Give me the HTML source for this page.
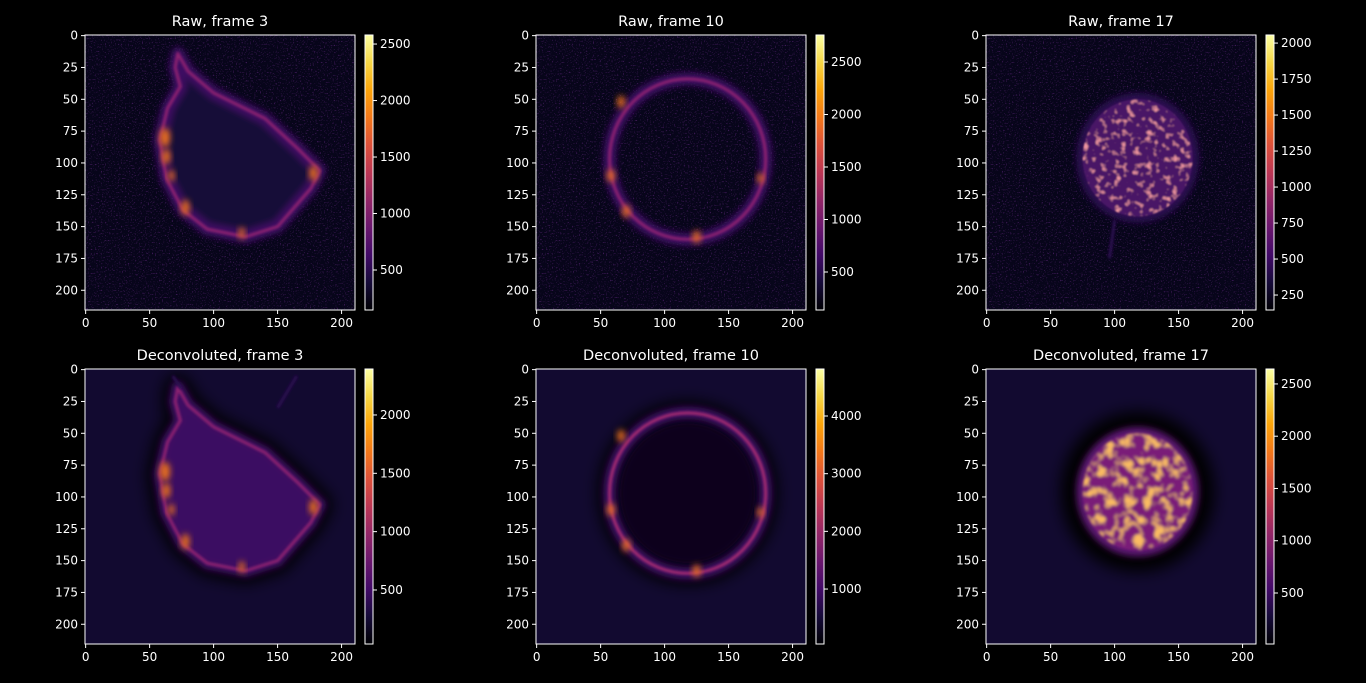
<!DOCTYPE html>
<html><head><meta charset="utf-8">
<style>
html,body{margin:0;padding:0;background:#000;}
svg{display:block;font-family:"DejaVu Sans","Liberation Sans",sans-serif;}
</style></head>
<body>
<svg id="fig" width="1366" height="683" viewBox="0 0 1366 683" xmlns="http://www.w3.org/2000/svg">
<defs>
  <linearGradient id="inferno" x1="0" y1="1" x2="0" y2="0">
    <stop offset="0" stop-color="#000004"/><stop offset="0.1" stop-color="#160b39"/>
    <stop offset="0.2" stop-color="#420a68"/><stop offset="0.3" stop-color="#6a176e"/>
    <stop offset="0.4" stop-color="#932667"/><stop offset="0.5" stop-color="#bc3754"/>
    <stop offset="0.6" stop-color="#dd513a"/><stop offset="0.7" stop-color="#f37819"/>
    <stop offset="0.8" stop-color="#fca50a"/><stop offset="0.9" stop-color="#f6d746"/>
    <stop offset="1" stop-color="#fcffa4"/>
  </linearGradient>
  <filter id="b1" x="-50%" y="-50%" width="200%" height="200%"><feGaussianBlur stdDeviation="1"/></filter>
  <filter id="b2" x="-50%" y="-50%" width="200%" height="200%"><feGaussianBlur stdDeviation="2.5"/></filter>
  <filter id="b6" x="-50%" y="-50%" width="200%" height="200%"><feGaussianBlur stdDeviation="6"/></filter>
  <filter id="speck" x="0" y="0" width="100%" height="100%">
    <feTurbulence type="fractalNoise" baseFrequency="0.9" numOctaves="1" seed="5" result="n"/>
    <feColorMatrix in="n" type="matrix" values="0 0 0 0 0.26  0 0 0 0 0.04  0 0 0 0 0.42  5 0 0 0 -2.9"/>
  </filter>
  <filter id="mottleRaw" x="-10%" y="-10%" width="120%" height="120%">
    <feTurbulence type="fractalNoise" baseFrequency="0.2" numOctaves="2" seed="3" result="n"/>
    <feColorMatrix in="n" type="matrix" values="0 0 0 0 0.85  0 0 0 0 0.3  0 0 0 0 0.35  4 0 0 0 -2.2" result="c"/>
    <feComposite in="c" in2="SourceGraphic" operator="in" result="m"/>
    <feMerge><feMergeNode in="SourceGraphic"/><feMergeNode in="m"/></feMerge>
    <feGaussianBlur stdDeviation="0.7"/>
  </filter>
  <filter id="mottle" x="-10%" y="-10%" width="120%" height="120%">
    <feTurbulence type="fractalNoise" baseFrequency="0.13" numOctaves="2" seed="3" result="n"/>
    <feColorMatrix in="n" type="matrix" values="0 0 0 0 0.96  0 0 0 0 0.5  0 0 0 0 0.12  4 0 0 0 -1.9" result="c"/>
    <feComposite in="c" in2="SourceGraphic" operator="in" result="m"/>
    <feMerge><feMergeNode in="SourceGraphic"/><feMergeNode in="m"/></feMerge>
    <feGaussianBlur stdDeviation="1"/>
  </filter>
</defs>
</svg>
<script>
const NS="http://www.w3.org/2000/svg";
const fig=document.getElementById('fig');

// ---- data ----
const titles=[["Raw, frame 3","Raw, frame 10","Raw, frame 17"],["Deconvoluted, frame 3","Deconvoluted, frame 10","Deconvoluted, frame 17"]];
const xTicks=[0,50,100,150,200];
const yTicks=[0,25,50,75,100,125,150,175,200];
const imgCols=211, imgRows=216;
const cbRanges=[[146,2580],[138,2757],[146,2056],[37,2394],[47,4815],[12,2643]];
const cbTicks=[[500,1000,1500,2000,2500],[500,1000,1500,2000,2500],[250,500,750,1000,1250,1500,1750,2000],
               [500,1000,1500,2000],[1000,2000,3000,4000],[500,1000,1500,2000,2500]];
const cellF3=[[72,14],[80,28],[100,45],[140,65],[165,88],[183,106],[176,120],[150,150],[125,158],[95,152],[76,137],[63,112],[58,82],[64,57],[74,40],[70,25]];
const spotsF3=[[62,80,5],[63,95,4],[67,110,3],[178,108,4],[78,135,4],[122,155,3]];
const ringF10={cx:118,cy:97,rx:61,ry:63};
const spotsF10=[[66,52,3],[58,110,3],[70,138,3],[125,158,3],[175,112,2.5]];
const diskF17={cx:118,cy:96,rx:46,ry:49};

const axL=[85,536,986], axT=[35,369], axW=270, axH=275;

function el(tag,attrs,parent){const e=document.createElementNS(NS,tag);for(const k in attrs)e.setAttribute(k,attrs[k]);(parent||fig).appendChild(e);return e;}
function sx(v,l){return l+(v+0.5)*axW/imgCols;}
function sy(v,t){return t+(v+0.5)*axH/imgRows;}
function polyPath(pts){return "M"+pts.map(p=>p[0]+","+p[1]).join(" L")+" Z";}

function drawCell(g,row,col){
  const raw=row===0;
  const bg=raw?"#07051a":"#120a30";
  el('rect',{x:-0.5,y:-0.5,width:imgCols,height:imgRows,fill:bg},g);
  if(raw) el('rect',{x:-0.5,y:-0.5,width:imgCols,height:imgRows,filter:"url(#speck)",opacity:0.45},g);
  if(col===0){
    const d=polyPath(cellF3);
    if(!raw) el('path',{d:d,fill:"none",stroke:"#000004","stroke-width":20,"stroke-linejoin":"round",filter:"url(#b6)"},g);
    el('path',{d:d,fill:raw?"#170a38":"#3a1062","stroke":"#3e0f62","stroke-width":10,"stroke-linejoin":"round",filter:"url(#b2)"},g);
    el('path',{d:d,fill:"none",stroke:"#8a2270","stroke-width":2.5,"stroke-linejoin":"round",filter:"url(#b1)"},g);
    spotsF3.forEach(s=>{el('ellipse',{cx:s[0],cy:s[1],rx:s[2]*0.8,ry:s[2]*1.5,fill:"#e8701e",filter:"url(#b2)"},g);});
    if(!raw) el('path',{d:"M75,15 L68,5 M150,30 L165,5",stroke:"#2a0c50","stroke-width":2.5,filter:"url(#b1)"},g);
  } else if(col===1){
    const r=ringF10;
    if(!raw) el('ellipse',{cx:r.cx,cy:r.cy,rx:r.rx,ry:r.ry,fill:"none",stroke:"#000004","stroke-width":18,filter:"url(#b6)"},g);
    if(!raw) el('ellipse',{cx:r.cx,cy:r.cy,rx:r.rx-8,ry:r.ry-8,fill:"#07041a",filter:"url(#b2)"},g);
    el('ellipse',{cx:r.cx,cy:r.cy,rx:r.rx,ry:r.ry,fill:"none",stroke:"#3e0f62","stroke-width":10,filter:"url(#b2)"},g);
    el('ellipse',{cx:r.cx,cy:r.cy,rx:r.rx,ry:r.ry,fill:"none",stroke:raw?"#8a2270":"#a02a70","stroke-width":2.5,filter:"url(#b1)"},g);
    spotsF10.forEach(s=>{el('ellipse',{cx:s[0],cy:s[1],rx:s[2],ry:s[2]*1.6,fill:"#e8701e",filter:"url(#b2)"},g);});
  } else {
    const r=diskF17;
    if(!raw) el('ellipse',{cx:r.cx,cy:r.cy,rx:r.rx+14,ry:r.ry+14,fill:"#000004",filter:"url(#b6)"},g);
    el('ellipse',{cx:r.cx,cy:r.cy,rx:r.rx+2,ry:r.ry+2,fill:raw?"#2a0c50":"#5a1470",filter:"url(#b2)"},g);
    el('ellipse',{cx:r.cx,cy:r.cy,rx:r.rx-3,ry:r.ry-3,fill:raw?"#4a1266":"#7a1e78",filter:raw?"url(#mottleRaw)":"url(#mottle)"},g);
    if(raw) el('path',{d:"M100,145 L96,175",stroke:"#2a0c50","stroke-width":2.5,filter:"url(#b1)"},g);
  }
}

for(let row=0;row<2;row++){
  for(let col=0;col<3;col++){
    const l=axL[col], t=axT[row], idx=row*3+col;
    const ax=el('g',{});
    
    
    const img=el('svg',{x:l,y:t,width:axW,height:axH,viewBox:"-0.5 -0.5 "+imgCols+" "+imgRows,preserveAspectRatio:"none",overflow:"hidden"},ax);
    
    
    drawCell(img,row,col);
    el('rect',{x:l,y:t,width:axW,height:axH,fill:"none",stroke:"#fff","stroke-width":1},ax);
    const ti=el('text',{x:l+axW/2,y:t-9,fill:"#fff","font-size":14.5,"text-anchor":"middle"},ax);
    ti.textContent=titles[row][col];
    
    
    xTicks.forEach(v=>{const x=sx(v,l);
      el('line',{x1:x,x2:x,y1:t+axH,y2:t+axH+4,stroke:"#fff"},ax);
      const tx=el('text',{x:x,y:t+axH+17,fill:"#fff","font-size":12,"text-anchor":"middle"},ax);tx.textContent=v;
      
      });
    yTicks.forEach(v=>{const y=sy(v,t);
      el('line',{x1:l-4,x2:l,y1:y,y2:y,stroke:"#fff"},ax);
      const tx=el('text',{x:l-7,y:y+4,fill:"#fff","font-size":12,"text-anchor":"end"},ax);tx.textContent=v;
      
      });
    const cb=el('g',{},ax);
    
    
    const cl=l+280, cw=8;
    el('rect',{x:cl,y:t,width:cw,height:axH,fill:"url(#inferno)",stroke:"#fff","stroke-width":1},cb);
    const [vmin,vmax]=cbRanges[idx];
    cbTicks[idx].forEach(v=>{const y=t+axH-(v-vmin)/(vmax-vmin)*axH;
      el('line',{x1:cl+cw,x2:cl+cw+4,y1:y,y2:y,stroke:"#fff"},cb);
      const tx=el('text',{x:cl+cw+7,y:y+4,fill:"#fff","font-size":12},cb);tx.textContent=v;
      
      });
  }
}
</script>
</body></html>
